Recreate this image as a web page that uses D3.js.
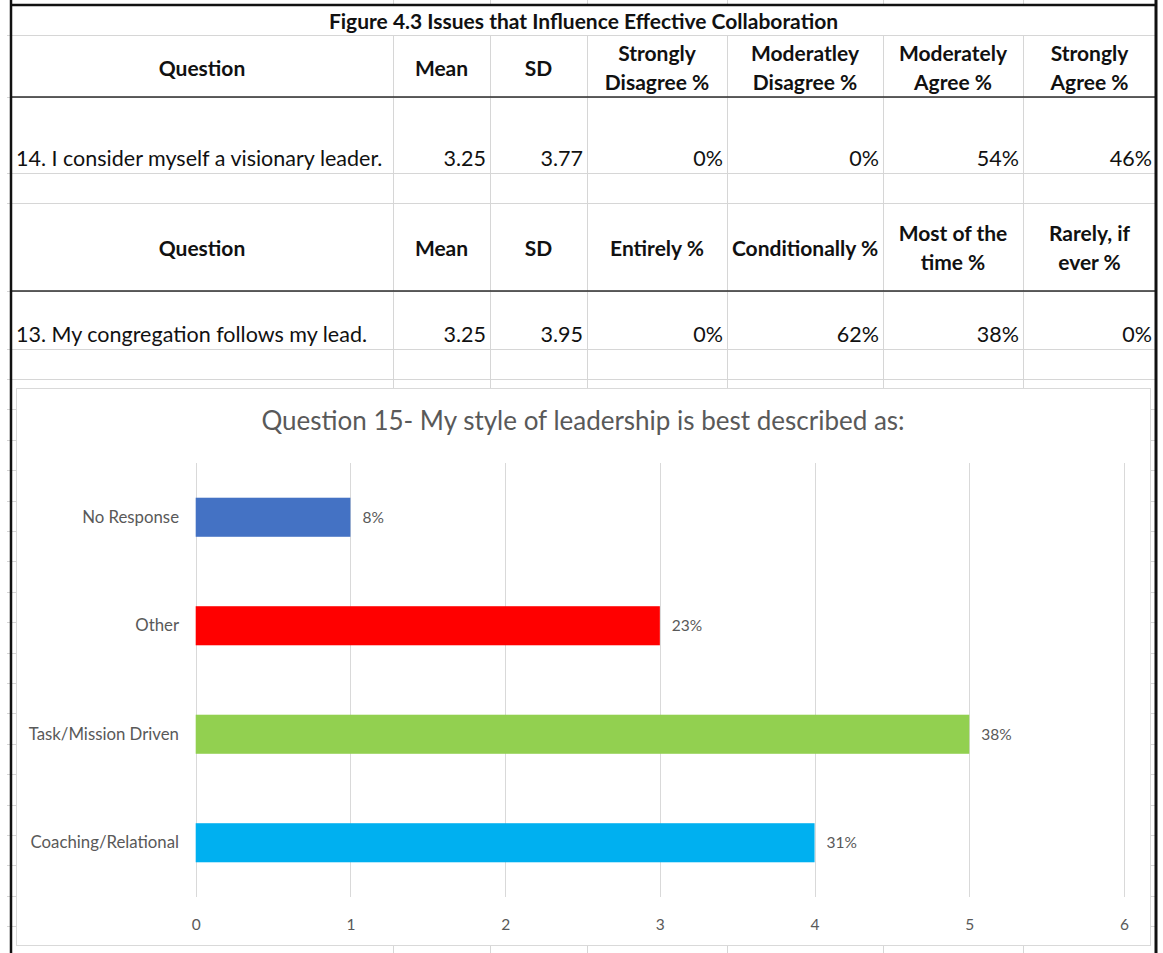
<!DOCTYPE html>
<html>
<head>
<meta charset="utf-8">
<script src="https://cdn.jsdelivr.net/npm/d3@7"></script>
<style>
  body { margin: 0; background: #fff; }
  svg { display: block; }
</style>
</head>
<body>
<svg id="fig" width="1163" height="953"></svg>
<script>
// ---- table content ----
const figureTitle = "Figure 4.3 Issues that Influence Effective Collaboration";
const q14Headers = ["Question", "Mean", "SD", "Strongly\nDisagree %", "Moderatley\nDisagree %", "Moderately\nAgree %", "Strongly\nAgree %"];
const q14Row = ["14. I consider myself a visionary leader.", "3.25", "3.77", "0%", "0%", "54%", "46%"];
const q13Headers = ["Question", "Mean", "SD", "Entirely %", "Conditionally %", "Most of the\ntime %", "Rarely, if\never %"];
const q13Row = ["13. My congregation follows my lead.", "3.25", "3.95", "0%", "62%", "38%", "0%"];

// ---- chart content ----
const chartTitle = "Question 15- My style of leadership is best described as:";
const styles = ["No Response", "Other", "Task/Mission Driven", "Coaching/Relational"];
const counts = [1, 3, 5, 4];
const percentLabels = ["8%", "23%", "38%", "31%"];
const barColors = ["#4472C4", "#FF0000", "#92D050", "#00B0F0"];
const xTicks = [0, 1, 2, 3, 4, 5, 6];

const W = 1163, H = 953;
const FONT = "Lato, 'Open Sans', sans-serif";
const svg = d3.select("#fig").style("font-family", FONT);

// sheet layout
const colEdges = [11, 393, 490, 587, 727, 883, 1023, 1156];
const rowEdges = [5, 35, 97, 173, 203, 291, 349, 379];
for (let y = 379 + 30.4; y < H + 5; y += 30.4) rowEdges.push(y);

const grid = svg.append("g").attr("stroke", "#d6d6d6").attr("stroke-width", 1);
// horizontal cell lines
grid.selectAll("line.h").data(rowEdges.slice(1)).join("line")
  .attr("class", "h")
  .attr("x1", 7).attr("x2", 1157)
  .attr("y1", d => Math.round(d) + 0.5).attr("y2", d => Math.round(d) + 0.5);
// vertical cell lines (title row is merged)
const inner = colEdges.slice(1, -1);
grid.selectAll("line.vt").data(inner).join("line")
  .attr("class", "vt")
  .attr("x1", d => d + 0.5).attr("x2", d => d + 0.5)
  .attr("y1", 0).attr("y2", 5);
grid.selectAll("line.v").data(inner).join("line")
  .attr("class", "v")
  .attr("x1", d => d + 0.5).attr("x2", d => d + 0.5)
  .attr("y1", 35).attr("y2", H);

// header underlines
svg.selectAll("line.hdr").data([97, 291]).join("line")
  .attr("class", "hdr")
  .attr("x1", 11).attr("x2", 1156)
  .attr("y1", d => d).attr("y2", d => d)
  .attr("stroke", "#2b2b2b").attr("stroke-width", 1.6);

// outer frame
const frame = svg.append("g").attr("stroke", "#111").attr("stroke-width", 2.5);
frame.append("line").attr("x1", 11).attr("x2", 11).attr("y1", 0).attr("y2", H);
frame.append("line").attr("x1", 1156).attr("x2", 1156).attr("y1", 0).attr("y2", H).attr("stroke-width", 3);
frame.append("line").attr("x1", 10).attr("x2", 1157).attr("y1", 5).attr("y2", 5);

// title
svg.append("text")
  .attr("x", (colEdges[0] + colEdges[7]) / 2).attr("y", 29)
  .attr("text-anchor", "middle")
  .attr("font-weight", 700).attr("font-size", 21).attr("fill", "#111")
  .text(figureTitle);

function drawHeader(labels, baseY) {
  labels.forEach((lab, i) => {
    const cx = (colEdges[i] + colEdges[i + 1]) / 2;
    const lines = lab.split("\n");
    const t = svg.append("text")
      .attr("text-anchor", "middle")
      .attr("font-weight", 700).attr("font-size", 21).attr("fill", "#111");
    lines.forEach((ln, k) => {
      t.append("tspan")
        .attr("x", cx)
        .attr("y", baseY + (k - (lines.length - 1) / 2) * 29)
        .text(ln);
    });
  });
}
function drawRow(cells, baseY) {
  cells.forEach((c, i) => {
    const t = svg.append("text")
      .attr("y", baseY)
      .attr("font-size", 21.5).attr("fill", "#111")
      .text(c);
    if (i === 0) t.attr("x", colEdges[0] + 5).attr("text-anchor", "start");
    else t.attr("x", colEdges[i + 1] - 4).attr("text-anchor", "end");
  });
}
drawHeader(q14Headers, 75.5);
drawRow(q14Row, 166);
drawHeader(q13Headers, 255.5);
drawRow(q13Row, 342);

// ---- embedded bar chart ----
const box = { x: 16, y: 388, w: 1134, h: 557 };
svg.append("rect")
  .attr("x", box.x + 0.5).attr("y", box.y + 0.5)
  .attr("width", box.w).attr("height", box.h)
  .attr("fill", "#fff").attr("stroke", "#d9d9d9");

svg.append("text")
  .attr("x", 583).attr("y", 430)
  .attr("text-anchor", "middle")
  .attr("font-size", 26).attr("fill", "#595959")
  .text(chartTitle);

const x = d3.scaleLinear().domain([0, 6]).range([195.7, 1124]);
const y = d3.scaleBand().domain(styles).range([463, 897]).paddingInner(0.64).paddingOuter(0.32);

const chart = svg.append("g");
chart.append("g")
  .selectAll("line").data(xTicks).join("line")
  .attr("x1", d => Math.round(x(d)) + 0.5).attr("x2", d => Math.round(x(d)) + 0.5)
  .attr("y1", 463).attr("y2", 897)
  .attr("stroke", "#d9d9d9");

const xAxis = chart.append("g")
  .attr("transform", "translate(0,897)")
  .call(d3.axisBottom(x).tickValues(xTicks).tickFormat(d3.format("d")).tickSize(0).tickPadding(22));
xAxis.select(".domain").remove();
xAxis.selectAll("text").attr("font-size", 15.5).attr("fill", "#595959").attr("font-family", FONT);

const yAxis = chart.append("g")
  .attr("transform", "translate(179,0)")
  .call(d3.axisLeft(y).tickSize(0).tickPadding(0));
yAxis.select(".domain").remove();
yAxis.selectAll("text").attr("font-size", 16.8).attr("fill", "#595959").attr("font-family", FONT);

chart.selectAll("rect.bar").data(styles).join("rect")
  .attr("class", "bar")
  .attr("x", x(0))
  .attr("y", d => y(d))
  .attr("width", (d, i) => x(counts[i]) - x(0))
  .attr("height", y.bandwidth())
  .attr("fill", (d, i) => barColors[i]);

chart.selectAll("text.val").data(styles).join("text")
  .attr("class", "val")
  .attr("x", (d, i) => x(counts[i]) + 12)
  .attr("y", d => y(d) + y.bandwidth() / 2)
  .attr("dy", "0.35em")
  .attr("font-size", 15.5).attr("fill", "#595959")
  .text((d, i) => percentLabels[i]);
</script>
</body>
</html>
